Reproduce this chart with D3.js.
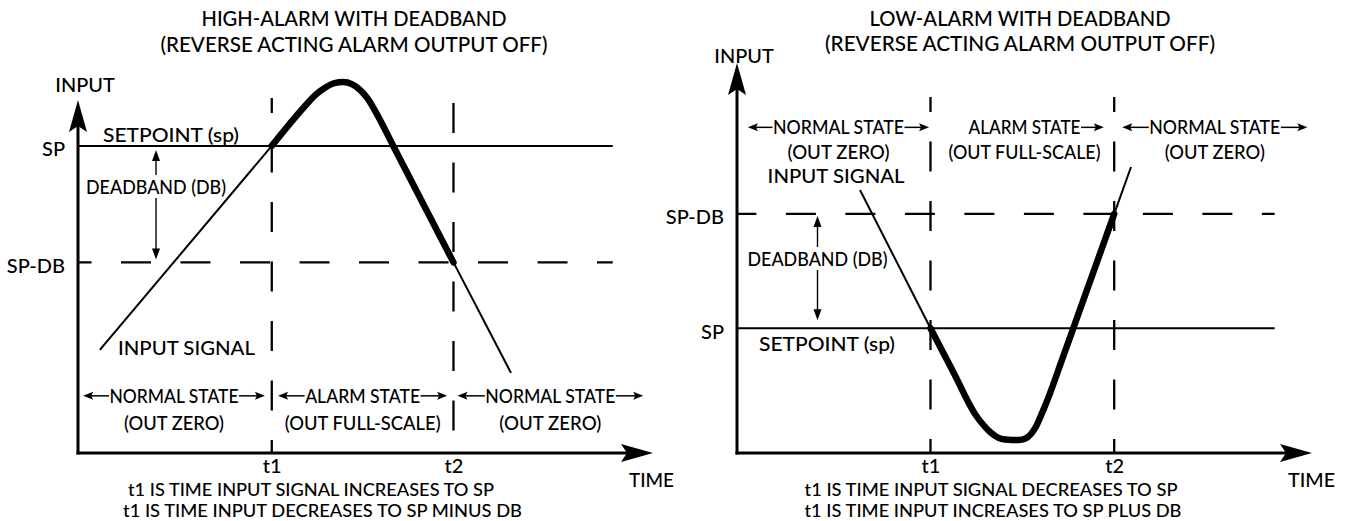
<!DOCTYPE html>
<html>
<head>
<meta charset="utf-8">
<script src="https://cdn.jsdelivr.net/npm/d3@7"></script>
<style>
  body { margin: 0; background: #fff; }
  text { font-family: Lato, 'Open Sans', sans-serif; font-weight: 500; fill: #000; }
</style>
</head>
<body>
<svg id="chart" width="1349" height="521"></svg>
<script>
// ---------------- DATA ----------------
const titlesHigh = ["HIGH-ALARM WITH DEADBAND", "(REVERSE ACTING ALARM OUTPUT OFF)"];
const titlesLow  = ["LOW-ALARM WITH DEADBAND", "(REVERSE ACTING ALARM OUTPUT OFF)"];
const notesHigh  = ["t1 IS TIME INPUT SIGNAL INCREASES TO SP", "t1 IS TIME INPUT DECREASES TO SP MINUS DB"];
const notesLow   = ["t1 IS TIME INPUT SIGNAL DECREASES TO SP", "t1 IS TIME INPUT INCREASES TO SP PLUS DB"];

const timeLabels  = ["t1", "t2"];
const highTimes   = [33.7, 65.3];
const lowTimes    = [33.65, 65.6];

const levelLabels = ["SP", "SP-DB"];
const highLevels  = [87, 54];
const lowLevels   = [32, 61.3];

const stateNames   = ["NORMAL STATE", "ALARM STATE", "NORMAL STATE"];
const stateOutputs = ["(OUT ZERO)", "(OUT FULL-SCALE)", "(OUT ZERO)"];
const highStateFrom = [0.9, 34.8, 66.0];
const highStateTo   = [32.5, 64.2, 98.3];
const lowStateFrom  = [1.9, 36.2, 67.0];
const lowStateTo    = [33.4, 63.8, 99.2];
const highStateLeftArrow = [true, true, true];
const lowStateLeftArrow  = [true, false, true];

// input signal (time, input)
const highSignalTime  = [3.8, 33.7, 39.48, 41.25, 42.96, 44.59, 46.15, 47.63, 49.04, 50.38, 51.65, 54.83, 65.3, 75.3];
const highSignalInput = [29.2, 87, 98.3, 101.4, 103.5, 104.8, 105.1, 104.5, 102.9, 100.4, 97.0, 87, 54, 22.7];
const lowSignalTime   = [21.39, 33.65, 37.57, 41.57, 42.78, 44.17, 45.39, 46.61, 47.83, 49.04, 50.09, 51.13, 52.0, 52.87, 53.74, 54.43, 56.47, 58.49, 65.6, 68.52];
const lowSignalInput  = [67.44, 32, 20.92, 9.62, 7.31, 5.18, 3.95, 3.44, 3.33, 3.33, 3.64, 4.87, 6.79, 9.62, 12.69, 15.31, 23.69, 32, 61.3, 73.33];

// ---------------- LAYOUT ----------------
const panels = [
  {
    titles: titlesHigh, notes: notesHigh, times: highTimes, levels: highLevels,
    stFrom: highStateFrom, stTo: highStateTo, stLeft: highStateLeftArrow,
    sigT: highSignalTime, sigV: highSignalInput,
    xRange: [78, 653], yRange: [453, 100],
    titleX: 354, titleY: [26, 52], titleW: [305, 387],
    levelEnd: 93.0, hDashOffset: 16.5,
    vTop: [98, 103], vDashOffset: [15, 0],
    inputLabelY: 92,
    setpointPos: [103, 142],
    dbX: 13.57, dbInset: [4, 3], dbTextY: 194,
    sigLabelPos: [118, 355],
    stY: [402.5, 429.5], stW: [129, 115, 130], outW: [100, 156, 102],
    noteX: [311, 322.5], noteY: [496, 517], noteW: [366, 399],
    timeW: 45
  },
  {
    titles: titlesLow, notes: notesLow, times: lowTimes, levels: lowLevels,
    stFrom: lowStateFrom, stTo: lowStateTo, stLeft: lowStateLeftArrow,
    sigT: lowSignalTime, sigV: lowSignalInput,
    xRange: [737, 1312], yRange: [453, 63],
    titleX: 1020, titleY: [26, 51], titleW: [301, 390],
    levelEnd: 93.5, hDashOffset: 10.6,
    vTop: [97, 97], vDashOffset: [15, 15],
    inputLabelY: 62.7,
    setpointPos: [759, 351],
    dbX: 14.0, dbInset: [2, 8], dbTextY: 266,
    sigLabelPos: [767.6, 183],
    stY: [134, 159], stW: [131, 112, 131], outW: [102, 152, 100],
    noteX: [991, 993], noteY: [496, 517], noteW: [373, 377],
    timeW: 47
  }
];

const svg = d3.select("#chart");

function txt(g, x, y, s, fs, anchor, w) {
  const t = g.append("text").attr("x", x).attr("y", y)
    .attr("font-size", fs).attr("text-anchor", anchor || "start").text(s);
  if (w) t.attr("textLength", w).attr("lengthAdjust", "spacingAndGlyphs");
  return t;
}

function arrowHead(g, x, y, angle, len, hw, notch) {
  g.append("path")
    .attr("d", `M0,0 L${-len},${-hw} L${-len + notch},0 L${-len},${hw} Z`)
    .attr("transform", `translate(${x},${y}) rotate(${angle})`)
    .attr("fill", "#000");
}

function drawPanel(P) {
  const x = d3.scaleLinear().domain([0, 100]).range(P.xRange);
  const y = d3.scaleLinear().domain([0, 100]).range(P.yRange);
  const g = svg.append("g");
  const x0 = x(0), yb = y(0);

  // titles
  P.titles.forEach((t, i) => txt(g, P.titleX, P.titleY[i], t, 20.5, "middle", P.titleW[i]));

  // horizontal level lines (SP solid, SP-DB dashed)
  P.levels.forEach((v, i) => {
    const ln = g.append("line")
      .attr("x1", x(0)).attr("x2", x(P.levelEnd))
      .attr("y1", y(v)).attr("y2", y(v))
      .attr("stroke", "#000").attr("stroke-width", i === 0 ? 2 : 2.3);
    if (i === 1) ln.attr("stroke-dasharray", "30,29.5").attr("stroke-dashoffset", P.hDashOffset);
  });

  // vertical dashed time lines
  P.times.forEach((t, i) => {
    g.append("line")
      .attr("x1", x(t)).attr("x2", x(t))
      .attr("y1", P.vTop[i]).attr("y2", yb)
      .attr("stroke", "#000").attr("stroke-width", 2.3)
      .attr("stroke-dasharray", "30,29.5").attr("stroke-dashoffset", P.vDashOffset[i]);
  });

  // tick labels through d3 axes
  const xAxis = d3.axisBottom(x).tickValues(P.times)
    .tickFormat((d, i) => timeLabels[i]).tickSize(0).tickPadding(6);
  const gx = g.append("g").attr("transform", `translate(0,${yb})`).call(xAxis);
  gx.select(".domain").remove();
  gx.selectAll("text").attr("font-size", 20).attr("fill", "#000");

  const yAxis = d3.axisLeft(y).tickValues(P.levels)
    .tickFormat((d, i) => levelLabels[i]).tickSize(0).tickPadding(13);
  const gy = g.append("g").attr("transform", `translate(${x0},0)`).call(yAxis);
  gy.select(".domain").remove();
  gy.selectAll("text").attr("font-size", 20).attr("dy", "0.5em").attr("fill", "#000");

  // axis lines with arrows
  g.append("line").attr("x1", x0).attr("x2", x0).attr("y1", yb + 1.5).attr("y2", y(100) + 12)
    .attr("stroke", "#000").attr("stroke-width", 3);
  arrowHead(g, x0, y(100), -90, 32, 9, 6);
  g.append("line").attr("x1", x0 - 1.5).attr("x2", x(100) - 12).attr("y1", yb).attr("y2", yb)
    .attr("stroke", "#000").attr("stroke-width", 3);
  arrowHead(g, x(100), yb, 0, 32, 9, 6);

  txt(g, x0 + 7, P.inputLabelY, "INPUT", 20, "middle", 59.5);
  txt(g, x(100) - 24, 487, "TIME", 20, "start", P.timeW);
  txt(g, P.setpointPos[0], P.setpointPos[1], "SETPOINT (sp)", 20, "start", 136);

  // deadband annotation
  const ax = x(P.dbX);
  const yA = y(Math.max(...P.levels)) + P.dbInset[0];
  const yB = y(Math.min(...P.levels)) - P.dbInset[1];
  const dbt = txt(g, ax, P.dbTextY, "DEADBAND (DB)", 19, "middle", 140);
  const bb = dbt.node().getBBox();
  g.append("line").attr("x1", ax).attr("x2", ax).attr("y1", yA + 6).attr("y2", bb.y)
    .attr("stroke", "#000").attr("stroke-width", 1.4);
  g.append("line").attr("x1", ax).attr("x2", ax).attr("y1", bb.y + bb.height).attr("y2", yB - 6)
    .attr("stroke", "#000").attr("stroke-width", 1.4);
  arrowHead(g, ax, yA, -90, 11, 4, 0);
  arrowHead(g, ax, yB, 90, 11, 4, 0);

  // state rows
  stateNames.forEach((name, i) => {
    const a = x(P.stFrom[i]), b = x(P.stTo[i]), cx = (a + b) / 2;
    const w = P.stW[i];
    txt(g, cx, P.stY[0], name, 18.5, "middle", w);
    const ay = P.stY[0] - 0.36 * 18.5;
    if (P.stLeft[i]) {
      g.append("line").attr("x1", cx - w / 2 - 0.5).attr("x2", a + 6).attr("y1", ay).attr("y2", ay)
        .attr("stroke", "#000").attr("stroke-width", 1.5);
      arrowHead(g, a, ay, 180, 10, 4, 2);
    }
    g.append("line").attr("x1", cx + w / 2 + 0.5).attr("x2", b - 6).attr("y1", ay).attr("y2", ay)
      .attr("stroke", "#000").attr("stroke-width", 1.5);
    arrowHead(g, b, ay, 0, 10, 4, 2);
    txt(g, cx, P.stY[1], stateOutputs[i], 18.5, "middle", P.outW[i]);
  });

  // input signal
  const pts = P.sigT.map((t, i) => [t, P.sigV[i]]);
  const i1 = P.sigT.indexOf(P.times[0]);
  const i2 = P.sigT.indexOf(P.times[1]);
  const line = d3.line().x(d => x(d[0])).y(d => y(d[1])).curve(d3.curveMonotoneX);
  g.append("path").attr("d", line(pts.slice(0, i1 + 1)))
    .attr("fill", "none").attr("stroke", "#000").attr("stroke-width", 2);
  g.append("path").attr("d", line(pts.slice(i2)))
    .attr("fill", "none").attr("stroke", "#000").attr("stroke-width", 2);
  g.append("path").attr("d", line(pts.slice(i1, i2 + 1)))
    .attr("fill", "none").attr("stroke", "#000").attr("stroke-width", 6.5)
    .attr("stroke-linecap", "round").attr("stroke-linejoin", "round");

  txt(g, P.sigLabelPos[0], P.sigLabelPos[1], "INPUT SIGNAL", 19.5, "start", 137);

  // footnotes
  P.notes.forEach((n, i) => txt(g, P.noteX[i], P.noteY[i], n, 17.2, "middle", P.noteW[i]));
}

panels.forEach(drawPanel);
</script>
</body>
</html>
